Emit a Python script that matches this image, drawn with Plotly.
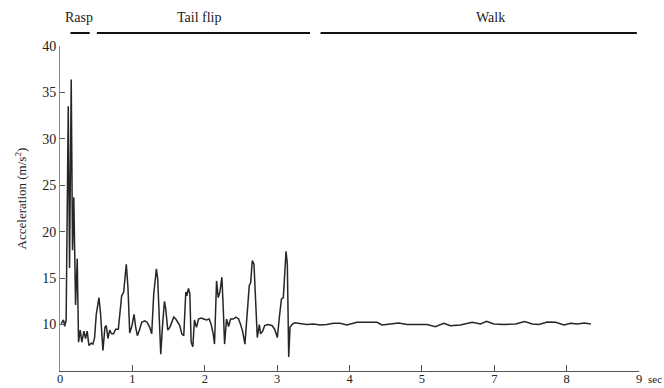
import plotly.graph_objects as go

# ---- data (time in axis positions, acceleration in m/s^2) ----
rasp_t = [0.017, 0.048, 0.066, 0.085, 0.114, 0.132, 0.155, 0.173, 0.191, 0.215, 0.238]
rasp_a = [10.1, 10.5, 9.8, 10.5, 33.5, 16.1, 36.4, 18.0, 23.7, 12.1, 17.1]

flip_t = [0.256, 0.279, 0.302, 0.330, 0.353, 0.376, 0.399, 0.432, 0.455, 0.478,
          0.501, 0.538, 0.561, 0.593, 0.621, 0.639, 0.663, 0.686, 0.713, 0.741,
          0.769, 0.806, 0.829, 0.852, 0.880, 0.916, 0.939, 0.963, 0.995, 1.023,
          1.046, 1.069, 1.101, 1.129, 1.170, 1.203, 1.240, 1.267, 1.295, 1.332,
          1.350, 1.369, 1.392, 1.415, 1.443, 1.461, 1.489, 1.517, 1.544, 1.572,
          1.600, 1.627, 1.655, 1.683, 1.710, 1.738, 1.752, 1.775, 1.794, 1.812,
          1.835, 1.858, 1.886, 1.914, 1.950, 1.987, 2.024, 2.061, 2.089, 2.117,
          2.135, 2.163, 2.186, 2.209, 2.237, 2.255, 2.274, 2.301, 2.329, 2.357,
          2.394, 2.431, 2.468, 2.495, 2.523, 2.555, 2.588, 2.615, 2.634, 2.657,
          2.680, 2.699, 2.726, 2.754, 2.772, 2.800, 2.828, 2.874, 2.929, 2.966,
          3.003, 3.031, 3.059, 3.086, 3.123, 3.141, 3.160, 3.178, 3.206, 3.243]
flip_a = [8.1, 9.4, 8.1, 9.3, 8.5, 9.3, 7.75, 8.0, 7.9, 8.6,
          11.1, 12.9, 11.1, 7.2, 9.7, 9.9, 8.5, 9.4, 9.0, 9.0,
          9.5, 9.5, 11.1, 13.1, 13.5, 16.5, 14.0, 9.1, 9.9, 11.1,
          9.7, 8.8, 9.5, 10.25, 10.4, 10.25, 9.7, 9.0, 13.3, 16.0,
          14.9, 10.6, 6.8, 9.7, 12.5, 11.7, 9.4, 9.7, 10.25, 10.8,
          10.6, 10.25, 9.9, 9.0, 8.8, 13.5, 13.1, 13.9, 13.3, 8.1,
          7.6, 10.5, 9.7, 10.6, 10.7, 10.6, 10.5, 10.6, 10.0, 9.0,
          7.9, 14.7, 12.9, 13.5, 15.1, 11.9, 7.9, 10.6, 9.8, 10.6,
          10.6, 10.8, 10.6, 10.0, 9.3, 7.9, 11.1, 14.2, 14.5, 16.9,
          16.5, 13.3, 8.6, 10.0, 9.0, 9.3, 9.9, 10.0, 9.9, 9.5,
          8.6, 10.8, 12.75, 12.9, 17.9, 16.5, 6.5, 9.7, 10.0, 10.2]

walk_t = [3.317, 3.409, 3.502, 3.594, 3.686, 3.779, 3.871, 3.964, 4.102, 4.241,
          4.380, 4.449, 4.564, 4.679, 4.795, 4.934, 5.072, 5.187, 5.302, 5.395,
          5.533, 5.695, 5.810, 5.893, 5.995, 6.133, 6.295, 6.420, 6.526, 6.618,
          6.734, 6.849, 6.964, 7.057, 7.149, 7.241, 7.334]
walk_a = [10.14, 10.0, 10.07, 9.96, 10.0, 10.14, 10.14, 9.96, 10.25, 10.21,
          10.25, 9.96, 10.07, 10.17, 10.0, 9.96, 10.0, 9.78, 10.14, 9.87,
          9.96, 10.25, 10.07, 10.35, 10.07, 10.0, 10.07, 10.32, 10.07, 10.0,
          10.28, 10.25, 9.96, 10.14, 10.07, 10.17, 10.07]

x_tickvals = [0, 1, 2, 3, 4, 5, 6, 7, 8]
x_ticktext = ["0", "1", "2", "3", "4", "5", "7", "8", "9"]
y_tickvals = [10, 15, 20, 25, 30, 35, 40]

phase_names = ["Rasp", "Tail flip", "Walk"]
phase_start = [0.145, 0.51, 3.60]
phase_end = [0.41, 3.455, 7.97]
phase_label_x = [0.262, 1.93, 5.95]

FONT = "Liberation Serif, Times New Roman, serif"

t = rasp_t + flip_t + walk_t
a = rasp_a + flip_a + walk_a

fig = go.Figure()
fig.add_trace(go.Scatter(x=t, y=a, mode="lines",
                         line=dict(color="#262626", width=1.5),
                         hoverinfo="skip", showlegend=False))

for name, s, e, lx in zip(phase_names, phase_start, phase_end, phase_label_x):
    fig.add_shape(type="line", xref="x", yref="paper", x0=s, x1=e, y0=1.04, y1=1.04,
                  line=dict(color="#111111", width=2))
    fig.add_annotation(x=lx, y=1.088, xref="x", yref="paper", text=name, showarrow=False,
                       font=dict(family=FONT, size=14, color="#222222"),
                       xanchor="center", yanchor="middle")

fig.add_annotation(x=-0.068, y=0.53, xref="paper", yref="paper",
                   text="Acceleration (m/s<sup>2</sup>)", textangle=-90, showarrow=False,
                   font=dict(family=FONT, size=13, color="#222222"),
                   xanchor="center", yanchor="middle")
fig.add_annotation(x=1.012, y=-0.026, xref="paper", yref="paper", text="sec",
                   showarrow=False, font=dict(family=FONT, size=11, color="#222222"),
                   xanchor="left", yanchor="middle")

fig.update_layout(
    width=664, height=388,
    margin=dict(l=60, r=25, t=46, b=17),
    paper_bgcolor="white", plot_bgcolor="white",
    font=dict(family=FONT, size=14, color="#222222"),
    xaxis=dict(range=[0, 8], tickvals=x_tickvals, ticktext=x_ticktext,
               showgrid=False, zeroline=False, showline=True, linecolor="#555555",
               linewidth=1, ticks="inside", ticklen=6, tickcolor="#555555",
               automargin=False, ticklabelstandoff=-4,
               tickfont=dict(family=FONT, size=12.5, color="#222222")),
    yaxis=dict(range=[5, 40], tickvals=y_tickvals,
               showgrid=False, zeroline=False, showline=True, linecolor="#8a8a8a",
               linewidth=1, ticks="inside", ticklen=5, tickcolor="#555555",
               automargin=False,
               tickfont=dict(family=FONT, size=14, color="#222222")),
)

fig.write_html("out.html", config={"displayModeBar": False},
               post_script="document.body.style.margin='0';document.body.style.overflow='hidden';")
